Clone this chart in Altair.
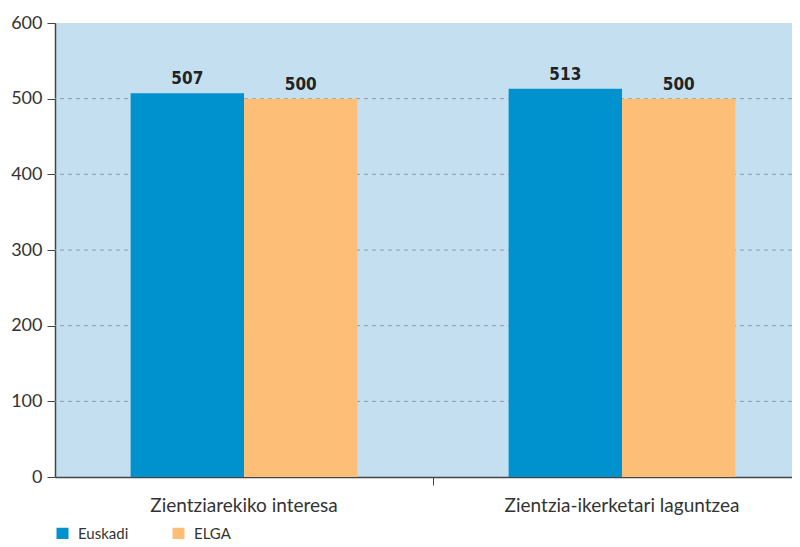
import altair as alt
import pandas as pd

categories = ["Zientziarekiko interesa", "Zientzia-ikerketari laguntzea"]
series = ["Euskadi", "ELGA"]
euskadi = [507, 513]
elga = [500, 500]
y_ticks = [0, 100, 200, 300, 400, 500, 600]
grid_values = [100, 200, 300, 400, 500]
colors = ["#0091cf", "#fdbf78"]

rows = []
for i, c in enumerate(categories):
    rows.append({"cat": c, "serie": series[0], "value": euskadi[i]})
    rows.append({"cat": c, "serie": series[1], "value": elga[i]})
df = pd.DataFrame(rows)
grid_df = pd.DataFrame({"v": grid_values})

FONT = "Lato"

x = alt.X(
    "cat:N", sort=categories,
    scale=alt.Scale(paddingInner=0.4, paddingOuter=0.1749, align=0.572),
    axis=alt.Axis(title=None, labelAngle=0, labelFont=FONT, labelFontSize=19,
                  labelColor="#333333", labelPadding=11, bandPosition=1.3333,
                  tickSize=8, domainColor="#444444", tickColor="#444444",
                  labelLimit=400, domainWidth=1.5),
)
y = alt.Y(
    "value:Q", scale=alt.Scale(domain=[0, 600]),
    axis=alt.Axis(values=y_ticks, grid=False, title=None, labelFont=FONT,
                  labelFontSize=18, labelColor="#333333", tickSize=8,
                  tickColor="#444444", domainColor="#444444", labelPadding=5,
                  domainWidth=1.5),
)
xo = alt.XOffset("serie:N", sort=series, scale=alt.Scale(paddingInner=0, paddingOuter=0))
color = alt.Color(
    "serie:N", sort=series, scale=alt.Scale(domain=series, range=colors),
    legend=alt.Legend(title=None, orient="none", legendX=0, legendY=503,
                      direction="horizontal", symbolType="square", symbolSize=144,
                      symbolStrokeWidth=0, labelFont=FONT, labelFontSize=15,
                      labelColor="#333333", columnPadding=42, labelOffset=8),
)

grid = alt.Chart(grid_df).mark_rule(color="#8a9aa6", strokeDash=[4, 4], strokeWidth=1).encode(
    y=alt.Y("v:Q", scale=alt.Scale(domain=[0, 600]))
)
bars = alt.Chart(df).mark_bar().encode(x=x, y=y, xOffset=xo, color=color)
labels = alt.Chart(df).mark_text(
    dy=-5, baseline="bottom", fontWeight="bold", fontSize=17,
    font="Liberation Sans Narrow, DejaVu Sans Condensed", color="#222222"
).encode(x=x, y=y, xOffset=xo, text=alt.Text("value:Q"))

chart = alt.layer(grid, bars, labels).properties(
    width=737, height=454,
    autosize=alt.AutoSizeParams(type="none"),
    padding={"left": 47, "top": 15, "right": 0, "bottom": 62},
).configure_view(fill="#c4e0f0", stroke=None)

chart.save("out.html", embed_options={"renderer": "svg", "actions": False})
